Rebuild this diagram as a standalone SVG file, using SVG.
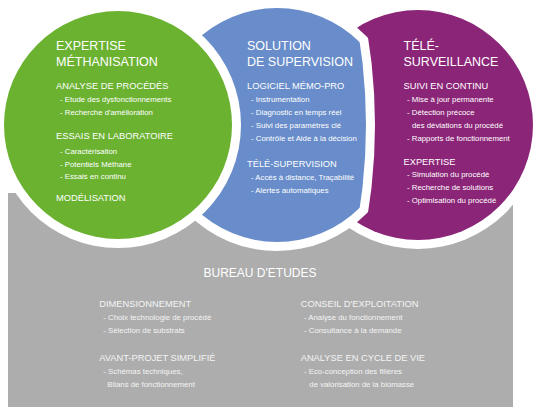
<svg xmlns="http://www.w3.org/2000/svg" width="540" height="417" viewBox="0 0 540 417">
<style>
text{font-family:"Liberation Sans",Arial,sans-serif;fill:#ffffff}
.t{font-size:12.5px}
.h{font-size:9.3px}
.b{font-size:7.8px}
.bt{font-size:12px}
.bb{fill:#f4f4f4}
.ring{fill:#ffffff}
</style>
<defs>
<clipPath id="cbr"><path d="M0,0 L361,0 Q389,125 361,250 L361,260 L0,260 Z"/></clipPath>
<clipPath id="cb"><path d="M0,0 L352,0 Q380,125 352,250 L352,260 L0,260 Z"/></clipPath>
</defs>
<rect width="540" height="417" fill="#ffffff"/>
<g id="bureau">
<rect x="8" y="193" width="505" height="214" fill="#adadad"/>
<text class="bt" x="260" y="277.3" text-anchor="middle">BUREAU D'ETUDES</text>
<text class="h bb" x="99.3" y="306.7">DIMENSIONNEMENT</text>
<text class="b bb" x="103.3" y="320">- Choix technologie de procédé</text>
<text class="b bb" x="103.3" y="332.7">- Sélection de substrats</text>
<text class="h bb" x="99.3" y="360.7">AVANT-PROJET SIMPLIFIÉ</text>
<text class="b bb" x="103.3" y="374">- Schémas techniques,</text>
<text class="b bb" x="107.3" y="386.5">Bilans de fonctionnement</text>
<text class="h bb" x="300.7" y="306.7">CONSEIL D'EXPLOITATION</text>
<text class="b bb" x="304" y="320">- Analyse du fonctionnement</text>
<text class="b bb" x="304" y="332.7">- Consultance à la demande</text>
<text class="h bb" x="300.7" y="360.7">ANALYSE EN CYCLE DE VIE</text>
<text class="b bb" x="304" y="374">- Eco-conception des filières</text>
<text class="b bb" x="309.3" y="386.5">de valorisation de la biomasse</text>
</g>
<g id="telesurveillance">
<circle class="ring" cx="418" cy="125" r="124"/>
<circle cx="418" cy="125" r="115" fill="#8b2578"/>
<text class="t" x="403.5" y="50">TÉLÉ-</text>
<text class="t" x="403.5" y="65.5">SURVEILLANCE</text>
<text class="h" x="403.5" y="89.3">SUIVI EN CONTINU</text>
<text class="b" x="407" y="101.7">- Mise à jour permanente</text>
<text class="b" x="407" y="114.7">- Détection précoce</text>
<text class="b" x="412" y="127.7">des déviations du procédé</text>
<text class="b" x="407" y="140.7">- Rapports de fonctionnement</text>
<text class="h" x="403.5" y="165">EXPERTISE</text>
<text class="b" x="407" y="177">- Simulation du procédé</text>
<text class="b" x="407" y="190">- Recherche de solutions</text>
<text class="b" x="407" y="202.7">- Optimisation du procédé</text>
</g>
<g id="supervision">
<circle class="ring" cx="277" cy="125" r="126" clip-path="url(#cbr)"/>
<circle cx="277" cy="125" r="117" fill="#688dca" clip-path="url(#cb)"/>
<text class="t" x="247" y="50">SOLUTION</text>
<text class="t" x="247" y="65.5">DE SUPERVISION</text>
<text class="h" x="247" y="89.3">LOGICIEL MÉMO-PRO</text>
<text class="b" x="251" y="102">- Instrumentation</text>
<text class="b" x="251" y="115">- Diagnostic en temps réel</text>
<text class="b" x="251" y="128">- Suivi des paramètres clé</text>
<text class="b" x="251" y="140.7">- Contrôle et Aide à la décision</text>
<text class="h" x="247" y="166.7">TÉLÉ-SUPERVISION</text>
<text class="b" x="251" y="180">- Accès à distance, Traçabilité</text>
<text class="b" x="251" y="192.7">- Alertes automatiques</text>
</g>
<g id="expertise">
<circle class="ring" cx="118" cy="125" r="123"/>
<circle cx="118" cy="125" r="114" fill="#6bb231"/>
<text class="t" x="56" y="50">EXPERTISE</text>
<text class="t" x="56" y="65.5">MÉTHANISATION</text>
<text class="h" x="56" y="89.3">ANALYSE DE PROCÉDÉS</text>
<text class="b" x="60" y="101.7">- Etude des dysfonctionnements</text>
<text class="b" x="60" y="114.5">- Recherche d'amélioration</text>
<text class="h" x="56" y="139.3">ESSAIS EN LABORATOIRE</text>
<text class="b" x="60" y="154">- Caractérisation</text>
<text class="b" x="60" y="166.7">- Potentiels Méthane</text>
<text class="b" x="60" y="179.3">- Essais en continu</text>
<text class="h" x="56" y="201">MODÉLISATION</text>
</g>
</svg>
